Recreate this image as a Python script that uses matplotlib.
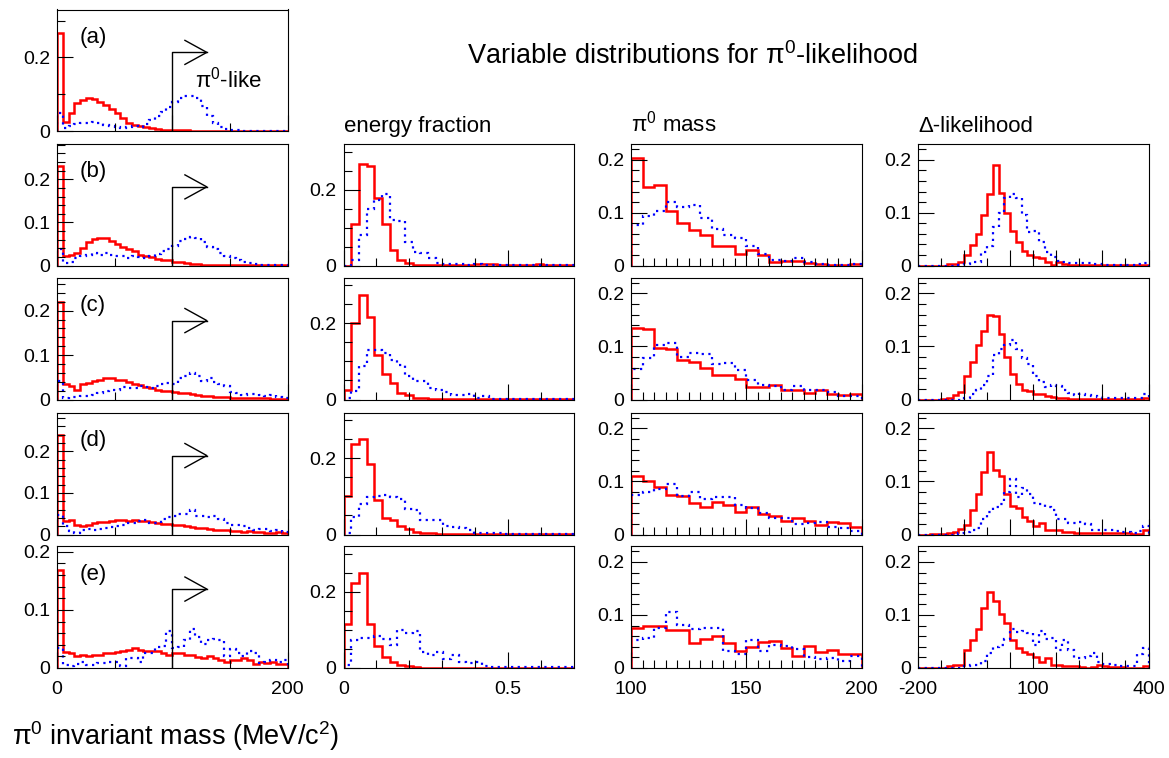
import matplotlib
matplotlib.use('Agg')
import matplotlib.pyplot as plt
import matplotlib.transforms as mtransforms
import numpy as np

plt.rcParams['font.family'] = ['Liberation Sans', 'DejaVu Sans']
plt.rcParams['mathtext.fontset'] = 'custom'
plt.rcParams['mathtext.rm'] = 'Liberation Sans'
plt.rcParams['mathtext.default'] = 'regular'

# ---- pi0 invariant mass (0-200, 40 bins) ----
inv_edges = np.linspace(0, 200, 41)
inv_a_red = [0.265, 0.025, 0.049, 0.076, 0.083, 0.090, 0.086, 0.079, 0.070, 0.061,
             0.048, 0.034, 0.023, 0.016, 0.014, 0.010, 0.007, 0.005, 0.004, 0.003,
             0.002, 0.002, 0.002, 0.001, 0.001, 0.001, 0.001, 0.001, 0.001, 0.001,
             0.001, 0.001, 0.001, 0.001, 0.001, 0.001, 0.001, 0.001, 0.001, 0.001]
inv_a_blue = [0.048, 0.007, 0.014, 0.020, 0.023, 0.023, 0.025, 0.022, 0.016, 0.014,
              0.010, 0.007, 0.010, 0.014, 0.012, 0.020, 0.030, 0.040, 0.052, 0.064,
              0.079, 0.090, 0.094, 0.095, 0.090, 0.067, 0.040, 0.022, 0.010, 0.005,
              0.003, 0.002, 0.001, 0.001, 0.001, 0.001, 0.001, 0.001, 0.001, 0.001]
inv_b_red = [0.230, 0.021, 0.025, 0.030, 0.040, 0.054, 0.061, 0.064, 0.064, 0.058,
             0.051, 0.044, 0.038, 0.033, 0.025, 0.021, 0.019, 0.016, 0.013, 0.012,
             0.009, 0.008, 0.006, 0.004, 0.003, 0.002, 0.0015, 0.0015, 0.0015, 0.0015,
             0.0015, 0.0015, 0.0015, 0.0015, 0.0015, 0.0015, 0.0015, 0.0015, 0.0015, 0.0015]
inv_b_blue = [0.038, 0.006, 0.009, 0.017, 0.022, 0.025, 0.029, 0.025, 0.030, 0.025,
              0.022, 0.021, 0.017, 0.021, 0.019, 0.017, 0.021, 0.027, 0.033, 0.038,
              0.046, 0.056, 0.061, 0.066, 0.064, 0.054, 0.044, 0.038, 0.030, 0.021,
              0.017, 0.012, 0.009, 0.006, 0.003, 0.0015, 0.0015, 0.0015, 0.0015, 0.0015]
inv_c_red = [0.219, 0.034, 0.030, 0.022, 0.034, 0.037, 0.041, 0.045, 0.049, 0.049,
             0.043, 0.043, 0.039, 0.036, 0.032, 0.028, 0.026, 0.022, 0.020, 0.019,
             0.016, 0.015, 0.015, 0.013, 0.010, 0.009, 0.0075, 0.006, 0.005, 0.005,
             0.004, 0.004, 0.004, 0.003, 0.003, 0.003, 0.003, 0.002, 0.002, 0.002]
inv_c_blue = [0.041, 0.004, 0.005, 0.006, 0.0075, 0.009, 0.011, 0.015, 0.019, 0.021,
              0.021, 0.028, 0.026, 0.026, 0.030, 0.028, 0.026, 0.030, 0.034, 0.037,
              0.034, 0.049, 0.054, 0.060, 0.054, 0.041, 0.049, 0.039, 0.036, 0.030,
              0.016, 0.015, 0.011, 0.013, 0.013, 0.011, 0.009, 0.011, 0.006, 0.004]
inv_d_red = [0.239, 0.032, 0.036, 0.024, 0.020, 0.024, 0.027, 0.030, 0.030, 0.032,
             0.036, 0.036, 0.032, 0.035, 0.032, 0.032, 0.030, 0.028, 0.026, 0.026,
             0.023, 0.022, 0.020, 0.019, 0.016, 0.015, 0.014, 0.012, 0.012, 0.010,
             0.008, 0.008, 0.006, 0.008, 0.006, 0.006, 0.004, 0.004, 0.006, 0.004]
inv_d_blue = [0.048, 0.020, 0.008, 0.004, 0.010, 0.014, 0.012, 0.014, 0.016, 0.018,
              0.020, 0.022, 0.027, 0.027, 0.032, 0.035, 0.027, 0.028, 0.038, 0.043,
              0.044, 0.050, 0.050, 0.059, 0.044, 0.044, 0.043, 0.044, 0.038, 0.028,
              0.024, 0.022, 0.020, 0.016, 0.012, 0.014, 0.014, 0.008, 0.010, 0.006]
inv_e_red = [0.169, 0.027, 0.025, 0.020, 0.023, 0.021, 0.023, 0.023, 0.026, 0.025,
             0.027, 0.029, 0.031, 0.035, 0.031, 0.030, 0.030, 0.029, 0.026, 0.023,
             0.025, 0.025, 0.023, 0.023, 0.019, 0.017, 0.020, 0.017, 0.013, 0.010,
             0.014, 0.014, 0.017, 0.014, 0.007, 0.011, 0.009, 0.010, 0.007, 0.007]
inv_e_blue = [0.034, 0.006, 0.003, 0.007, 0.010, 0.006, 0.006, 0.009, 0.009, 0.011,
              0.011, 0.003, 0.018, 0.018, 0.011, 0.026, 0.026, 0.036, 0.038, 0.063,
              0.034, 0.036, 0.049, 0.067, 0.054, 0.042, 0.049, 0.050, 0.049, 0.020,
              0.033, 0.025, 0.021, 0.029, 0.026, 0.009, 0.011, 0.013, 0.011, 0.014]

# ---- energy fraction (0-0.7, 30 bins) ----
ef_edges = np.linspace(0, 0.7, 31)
ef_b_red = [0.0, 0.108, 0.268, 0.262, 0.178, 0.108, 0.041, 0.015, 0.007, 0.002,
            0.001, 0.001, 0.001, 0.001, 0.001, 0.001, 0.001, 0.003, 0.003, 0.003,
            0.001, 0.001, 0.001, 0.001, 0.001, 0.003, 0.001, 0.001, 0.001, 0.001]
ef_b_blue = [0.0, 0.015, 0.080, 0.150, 0.172, 0.187, 0.121, 0.118, 0.063, 0.035,
             0.032, 0.019, 0.006, 0.004, 0.003, 0.003, 0.002, 0.003, 0.002, 0.002,
             0.002, 0.001, 0.002, 0.001, 0.001, 0.001, 0.001, 0.001, 0.001, 0.001]
ef_c_red = [0.026, 0.200, 0.274, 0.217, 0.117, 0.068, 0.043, 0.016, 0.011, 0.004,
            0.003, 0.001, 0.001, 0.001, 0.001, 0.001, 0.001, 0.001, 0.001, 0.001,
            0.001, 0.001, 0.001, 0.001, 0.001, 0.001, 0.001, 0.001, 0.001, 0.001]
ef_c_blue = [0.003, 0.022, 0.087, 0.130, 0.130, 0.123, 0.104, 0.091, 0.061, 0.048,
             0.048, 0.030, 0.026, 0.020, 0.011, 0.013, 0.015, 0.003, 0.009, 0.002,
             0.002, 0.002, 0.002, 0.002, 0.002, 0.002, 0.002, 0.002, 0.002, 0.002]
ef_d_red = [0.101, 0.237, 0.250, 0.185, 0.091, 0.044, 0.039, 0.022, 0.014, 0.007,
            0.003, 0.003, 0.001, 0.001, 0.001, 0.001, 0.001, 0.001, 0.001, 0.001,
            0.001, 0.001, 0.001, 0.001, 0.001, 0.001, 0.001, 0.001, 0.001, 0.001]
ef_d_blue = [0.003, 0.046, 0.079, 0.098, 0.100, 0.104, 0.098, 0.092, 0.068, 0.063,
             0.039, 0.037, 0.037, 0.023, 0.020, 0.016, 0.013, 0.004, 0.003, 0.003,
             0.003, 0.002, 0.002, 0.002, 0.002, 0.002, 0.002, 0.002, 0.002, 0.002]
ef_e_red = [0.115, 0.222, 0.250, 0.115, 0.057, 0.030, 0.017, 0.009, 0.004, 0.003,
            0.001, 0.001, 0.001, 0.001, 0.001, 0.001, 0.001, 0.001, 0.001, 0.001,
            0.001, 0.001, 0.001, 0.001, 0.001, 0.001, 0.001, 0.001, 0.001, 0.001]
ef_e_blue = [0.009, 0.074, 0.078, 0.078, 0.083, 0.077, 0.061, 0.100, 0.091, 0.097,
             0.042, 0.035, 0.041, 0.024, 0.035, 0.017, 0.013, 0.017, 0.004, 0.002,
             0.002, 0.002, 0.002, 0.002, 0.002, 0.002, 0.002, 0.002, 0.002, 0.002]

# ---- pi0 mass (100-200, 20 bins) ----
pm_edges = np.linspace(100, 200, 21)
pm_b_red = [0.204, 0.149, 0.153, 0.103, 0.081, 0.067, 0.058, 0.037, 0.037, 0.022,
            0.029, 0.020, 0.006, 0.009, 0.008, 0.004, 0.0025, 0.001, 0.001, 0.002]
pm_b_blue = [0.076, 0.093, 0.104, 0.120, 0.111, 0.115, 0.089, 0.070, 0.057, 0.052,
             0.037, 0.022, 0.011, 0.009, 0.014, 0.006, 0.0025, 0.001, 0.001, 0.002]
pm_c_red = [0.134, 0.133, 0.098, 0.095, 0.074, 0.071, 0.059, 0.046, 0.046, 0.039,
            0.023, 0.023, 0.028, 0.018, 0.018, 0.013, 0.017, 0.011, 0.008, 0.011]
pm_c_blue = [0.058, 0.079, 0.103, 0.106, 0.080, 0.087, 0.085, 0.066, 0.068, 0.055,
             0.037, 0.027, 0.025, 0.017, 0.025, 0.018, 0.018, 0.014, 0.006, 0.006]
pm_d_red = [0.111, 0.100, 0.090, 0.074, 0.072, 0.060, 0.051, 0.061, 0.055, 0.042,
            0.051, 0.039, 0.034, 0.026, 0.031, 0.026, 0.018, 0.023, 0.021, 0.015]
pm_d_blue = [0.075, 0.080, 0.085, 0.096, 0.072, 0.080, 0.067, 0.071, 0.071, 0.056,
             0.050, 0.040, 0.032, 0.032, 0.020, 0.021, 0.024, 0.015, 0.013, 0.007]
pm_e_red = [0.076, 0.079, 0.079, 0.071, 0.071, 0.047, 0.055, 0.060, 0.047, 0.032,
            0.040, 0.049, 0.051, 0.038, 0.023, 0.042, 0.030, 0.033, 0.027, 0.027]
pm_e_blue = [0.053, 0.057, 0.076, 0.106, 0.082, 0.074, 0.076, 0.076, 0.032, 0.027,
             0.052, 0.032, 0.044, 0.041, 0.036, 0.021, 0.017, 0.019, 0.013, 0.023]

# ---- Delta-likelihood (-200-400, 40 bins) ----
dl_edges = np.linspace(-200, 400, 41)
dl_b_red = [0, 0, 0, 0, 0, 0.002, 0.003, 0.006, 0.019, 0.038,
            0.060, 0.095, 0.136, 0.191, 0.137, 0.100, 0.065, 0.045, 0.028, 0.020,
            0.016, 0.014, 0.006, 0.001, 0.006, 0.0025, 0.001, 0.001, 0.001, 0.001,
            0.001, 0.001, 0.001, 0.001, 0.001, 0.001, 0.001, 0.001, 0.001, 0.001]
dl_b_blue = [0, 0, 0, 0, 0, 0, 0, 0.001, 0.0025, 0.006,
             0.0075, 0.026, 0.036, 0.073, 0.100, 0.127, 0.135, 0.128, 0.095, 0.064,
             0.065, 0.045, 0.026, 0.016, 0.009, 0.0075, 0.0056, 0.0056, 0.004, 0.004,
             0.0025, 0.0025, 0.001, 0.001, 0.001, 0.001, 0.001, 0.001, 0.0025, 0.004]
dl_c_red = [0, 0, 0, 0, 0.001, 0.0025, 0.0076, 0.014, 0.0435, 0.071,
            0.102, 0.130, 0.160, 0.157, 0.124, 0.081, 0.049, 0.030, 0.018, 0.016,
            0.0095, 0.0095, 0.0057, 0.0044, 0.0025, 0.0025, 0.001, 0.001, 0.001, 0.001,
            0.001, 0.001, 0.001, 0.001, 0.001, 0.001, 0.001, 0.001, 0.001, 0.0025]
dl_c_blue = [0, 0, 0, 0, 0, 0, 0, 0, 0.0025, 0.011,
             0.017, 0.028, 0.045, 0.083, 0.096, 0.102, 0.112, 0.096, 0.078, 0.067,
             0.045, 0.033, 0.023, 0.028, 0.025, 0.017, 0.0126, 0.0076, 0.0095, 0.0076,
             0.006, 0.0044, 0.0025, 0.0025, 0.0025, 0.0025, 0.0025, 0.0025, 0.0025, 0.011]
dl_d_red = [0, 0, 0.0006, 0.0006, 0.0013, 0.002, 0.004, 0.010, 0.0176, 0.046,
            0.077, 0.118, 0.155, 0.121, 0.110, 0.076, 0.053, 0.050, 0.033, 0.026,
            0.0157, 0.021, 0.008, 0.008, 0.008, 0.004, 0.004, 0.003, 0.003, 0.003,
            0.003, 0.002, 0.002, 0.002, 0.002, 0.002, 0.002, 0.0013, 0.0006, 0.008]
dl_d_blue = [0, 0, 0, 0, 0, 0, 0, 0.002, 0.004, 0.008,
             0.0126, 0.030, 0.043, 0.051, 0.057, 0.080, 0.104, 0.071, 0.087, 0.077,
             0.060, 0.057, 0.051, 0.046, 0.030, 0.030, 0.021, 0.022, 0.024, 0.0195,
             0.008, 0.008, 0.008, 0.008, 0.007, 0.005, 0.004, 0.002, 0.006, 0.0157]
dl_e_red = [0, 0, 0, 0, 0, 0.003, 0.005, 0.006, 0.033, 0.052,
            0.074, 0.113, 0.143, 0.126, 0.102, 0.084, 0.052, 0.038, 0.031, 0.027,
            0.021, 0.011, 0.019, 0.005, 0.005, 0.003, 0.003, 0.003, 0.0013, 0,
            0.0013, 0.006, 0.003, 0.0013, 0.0013, 0.0013, 0, 0, 0, 0.003]
dl_e_blue = [0, 0, 0, 0, 0, 0, 0, 0, 0.003, 0.006,
             0.006, 0.0126, 0.028, 0.039, 0.044, 0.055, 0.074, 0.068, 0.069, 0.066,
             0.044, 0.069, 0.055, 0.057, 0.033, 0.053, 0.033, 0.019, 0.019, 0.022,
             0.028, 0.011, 0.0075, 0.0075, 0.005, 0.003, 0.003, 0.003, 0.027, 0.038]

row_tags = ['(a)', '(b)', '(c)', '(d)', '(e)']
inv_ymax = [0.33, 0.282, 0.2745, 0.293, 0.21]
cut = 100  # pi0-like cut on invariant mass

inv_data = [(inv_a_red, inv_a_blue), (inv_b_red, inv_b_blue), (inv_c_red, inv_c_blue),
            (inv_d_red, inv_d_blue), (inv_e_red, inv_e_blue)]
ef_data = [(ef_b_red, ef_b_blue), (ef_c_red, ef_c_blue), (ef_d_red, ef_d_blue), (ef_e_red, ef_e_blue)]
pm_data = [(pm_b_red, pm_b_blue), (pm_c_red, pm_c_blue), (pm_d_red, pm_d_blue), (pm_e_red, pm_e_blue)]
dl_data = [(dl_b_red, dl_b_blue), (dl_c_red, dl_c_blue), (dl_d_red, dl_d_blue), (dl_e_red, dl_e_blue)]

W, H = 1169, 758
fig = plt.figure(figsize=(W / 100, H / 100), dpi=100)

tops = [9.5, 144, 277.5, 412.5, 546]
bottoms = [131, 265.5, 399.5, 534.5, 668]
lefts = [57, 343.5, 631, 918]
pw = 230.5


def make_ax(col, row):
    return fig.add_axes([lefts[col] / W, 1 - bottoms[row] / H, pw / W,
                         (bottoms[row] - tops[row]) / H])


def style(ax):
    for s in ax.spines.values():
        s.set_linewidth(0.8)
        s.set_color('black')
    ax.tick_params(which='both', direction='in', top=False, right=False,
                   width=0.8, colors='black', labelsize=14)
    ax.tick_params(which='major', length=11.5)
    ax.tick_params(which='minor', length=5.5)
    ax.tick_params(axis='x', pad=9)
    ax.tick_params(axis='y', pad=5)


def draw(ax, edges, red, blue):
    ax.stairs(red, edges, color='red', lw=1.8)
    ax.stairs(blue, edges, color='blue', lw=1.6, linestyle=(0, (1, 2)))


def set_y(ax, major, minor, ymax):
    ax.set_ylim(0, ymax)
    ax.set_yticks(major)
    ax.set_yticklabels([f'{v:g}' for v in major])
    ax.set_yticks(minor, minor=True)


def set_x(ax, major, labels, minor, show):
    ax.set_xticks(major)
    ax.set_xticklabels(labels if show else [''] * len(major))
    ax.set_xticks(minor, minor=True)


# column 1: invariant mass
for r in range(5):
    ax = make_ax(0, r)
    style(ax)
    red, blue = inv_data[r]
    draw(ax, inv_edges, red, blue)
    ax.set_xlim(0, 200)
    if r == 0:
        set_y(ax, [0, 0.2], [0.1, 0.3], inv_ymax[r])
    else:
        set_y(ax, [0, 0.1, 0.2], np.arange(0.02, inv_ymax[r], 0.02), inv_ymax[r])
    set_x(ax, [0, 100, 200], ['0', '', '200'], [50, 150], r == 4)
    # cut arrow
    tr = mtransforms.blended_transform_factory(ax.transData, ax.transAxes)
    ax.plot([cut, cut, 130], [0, 0.647, 0.647], color='black', lw=1.0, transform=tr)
    ax.plot([111, 130, 111], [0.746, 0.647, 0.548], color='black', lw=1.0, transform=tr)
    ax.text(0.1, 0.725, row_tags[r], transform=ax.transAxes, fontsize=16,
            ha='left', va='baseline')
    if r == 0:
        ax.text(0.597, 0.36, r'π$^0$-like', transform=ax.transAxes, fontsize=16,
                ha='left', va='baseline')

# columns 2-4
for r in range(4):
    row = r + 1
    last = row == 4

    ax = make_ax(1, row)
    style(ax)
    draw(ax, ef_edges, *ef_data[r])
    ax.set_xlim(0, 0.7)
    set_y(ax, [0, 0.2], [0.05, 0.1, 0.15, 0.25, 0.3], 0.32)
    set_x(ax, [0, 0.5], ['0', '0.5'], [0.1, 0.2, 0.3, 0.4, 0.6], last)

    ax = make_ax(2, row)
    style(ax)
    draw(ax, pm_edges, *pm_data[r])
    ax.set_xlim(100, 200)
    set_y(ax, [0, 0.1, 0.2], np.arange(0.02, 0.23, 0.02), 0.23)
    set_x(ax, [100, 150, 200], ['100', '150', '200'], np.arange(105, 200, 5), last)

    ax = make_ax(3, row)
    style(ax)
    draw(ax, dl_edges, *dl_data[r])
    ax.set_xlim(-200, 400)
    set_y(ax, [0, 0.1, 0.2], np.arange(0.02, 0.23, 0.02), 0.23)
    set_x(ax, [-200, -80, 40, 100, 160, 280, 400],
          ['-200', '', '', '100', '', '', '400'], [-140, -20, 220, 340], last)

# titles
fig.text(692.5 / W, 1 - 64.5 / H, r'Variable distributions for π$^0$-likelihood',
         fontsize=19.5, ha='center', va='baseline')
fig.text(343.5 / W, 1 - 131.7 / H, 'energy fraction', fontsize=16, ha='left', va='baseline')
fig.text(631 / W, 1 - 131.7 / H, r'π$^0$ mass', fontsize=16, ha='left', va='baseline')
fig.text(918 / W, 1 - 131.7 / H, 'Δ-likelihood', fontsize=16, ha='left', va='baseline')
fig.text(12 / W, 1 - 745 / H, r'π$^0$ invariant mass (MeV/c$^2$)', fontsize=19.5,
         ha='left', va='baseline')

fig.savefig('out.png', dpi=100)
